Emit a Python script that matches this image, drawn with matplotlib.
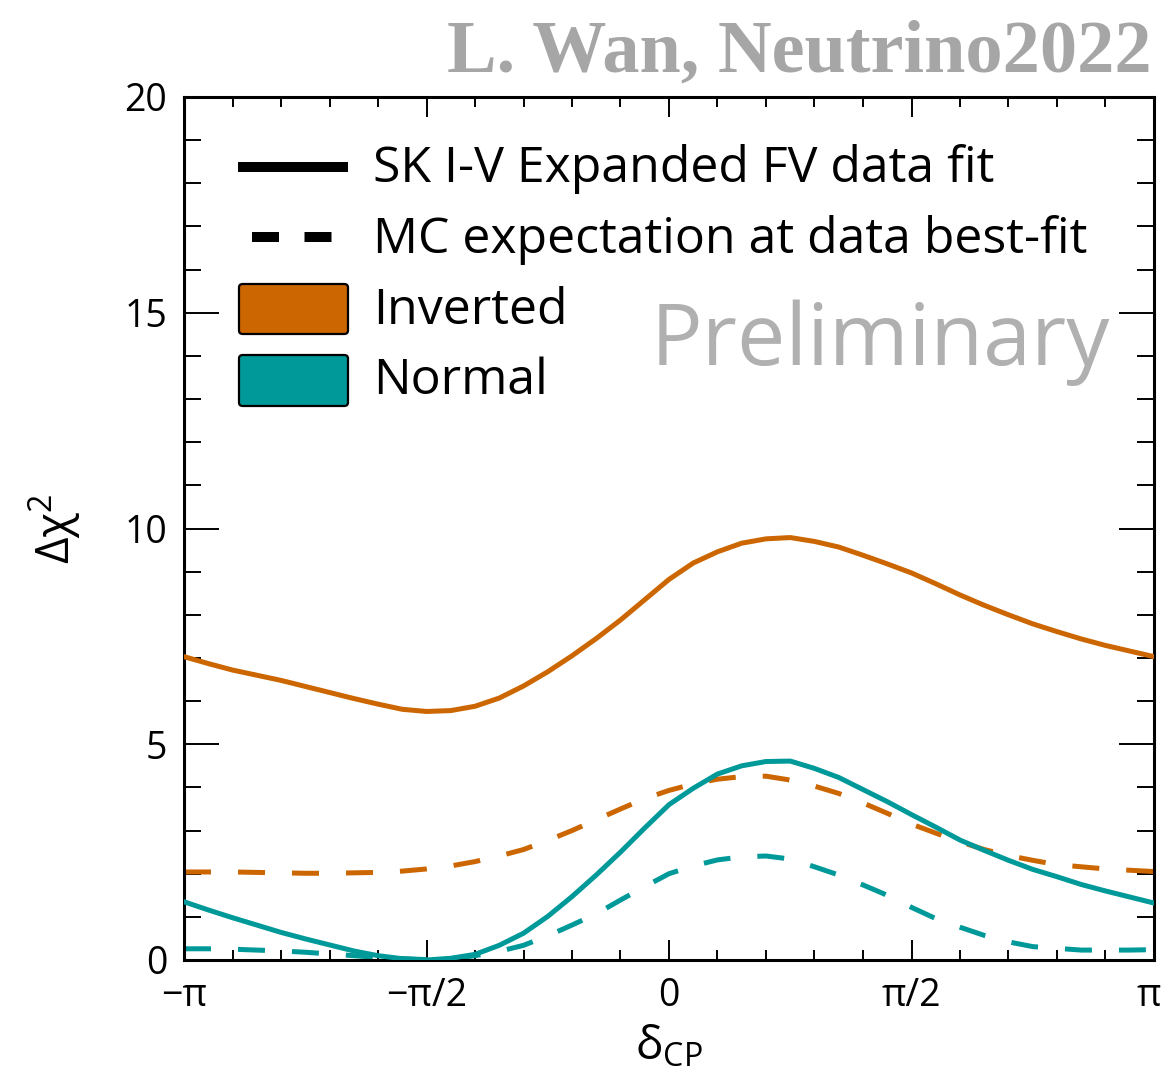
import numpy as np
import matplotlib
matplotlib.use("Agg")
import matplotlib.pyplot as plt
import matplotlib.transforms as mtransforms
from matplotlib.lines import Line2D
from matplotlib.patches import FancyBboxPatch

plt.rcParams['font.family'] = ['Open Sans', 'DejaVu Sans']
plt.rcParams['mathtext.fontset'] = 'custom'
plt.rcParams['mathtext.rm'] = 'Open Sans'
plt.rcParams['mathtext.it'] = 'Open Sans'

# delta_CP grid in units of pi
delta_over_pi = [-1.00, -0.95, -0.90, -0.85, -0.80, -0.75, -0.70, -0.65, -0.60, -0.55,
                 -0.50, -0.45, -0.40, -0.35, -0.30, -0.25, -0.20, -0.15, -0.10, -0.05,
                 0.00, 0.05, 0.10, 0.15, 0.20, 0.25, 0.30, 0.35, 0.40, 0.45,
                 0.50, 0.55, 0.60, 0.65, 0.70, 0.75, 0.80, 0.85, 0.90, 0.95, 1.00]

# Data fit, inverted / normal ordering
io_data = [7.03, 6.87, 6.72, 6.60, 6.48, 6.34, 6.20, 6.06, 5.93, 5.81,
           5.76, 5.78, 5.88, 6.07, 6.35, 6.68, 7.05, 7.45, 7.88, 8.35,
           8.82, 9.20, 9.46, 9.66, 9.76, 9.79, 9.70, 9.57, 9.38, 9.18,
           8.97, 8.72, 8.46, 8.22, 8.00, 7.79, 7.61, 7.44, 7.29, 7.16, 7.03]
no_data = [1.35, 1.16, 0.98, 0.81, 0.64, 0.49, 0.35, 0.21, 0.10, 0.03,
           0.00, 0.04, 0.13, 0.34, 0.62, 1.01, 1.47, 1.97, 2.50, 3.06,
           3.60, 3.98, 4.31, 4.50, 4.60, 4.61, 4.44, 4.23, 3.95, 3.67,
           3.37, 3.08, 2.78, 2.54, 2.31, 2.10, 1.93, 1.75, 1.60, 1.46, 1.32]

# MC expectation at the data best fit
io_mc = [2.04, 2.04, 2.04, 2.03, 2.02, 2.01, 2.01, 2.02, 2.03, 2.06,
         2.11, 2.18, 2.28, 2.41, 2.56, 2.77, 3.00, 3.25, 3.50, 3.74,
         3.93, 4.08, 4.19, 4.25, 4.26, 4.17, 4.03, 3.86, 3.64, 3.40,
         3.15, 2.94, 2.74, 2.56, 2.42, 2.31, 2.21, 2.16, 2.11, 2.08, 2.05]
no_mc = [0.26, 0.26, 0.25, 0.23, 0.21, 0.18, 0.14, 0.10, 0.06, 0.03,
         0.01, 0.03, 0.10, 0.20, 0.34, 0.56, 0.81, 1.07, 1.39, 1.70,
         2.00, 2.18, 2.32, 2.39, 2.41, 2.34, 2.16, 1.97, 1.74, 1.50,
         1.22, 0.96, 0.76, 0.57, 0.42, 0.31, 0.27, 0.23, 0.23, 0.23, 0.24]

x_tick_pos = [-1.0, -0.5, 0.0, 0.5, 1.0]
x_tick_labels = ['\u2212\u03c0', '\u2212\u03c0/2', '0', '\u03c0/2', '\u03c0']
y_tick_pos = [0, 5, 10, 15, 20]

legend_labels = ['SK I-V Expanded FV data fit', 'MC expectation at data best-fit',
                 'Inverted', 'Normal']

ORANGE = '#CC6600'
TEAL = '#009999'

fig = plt.figure(figsize=(11.62, 10.92), dpi=100)
ax = fig.add_axes([184/1162, 1 - 960/1092, 970/1162, 863/1092])

x = np.array(delta_over_pi) * np.pi
dash = (0, (5.4, 5.4))
lw = 3.6
ax.plot(x, io_mc, color=ORANGE, lw=lw, ls=dash, zorder=2)
ax.plot(x, no_mc, color=TEAL, lw=lw, ls=dash, zorder=2)
ax.plot(x, io_data, color=ORANGE, lw=lw, zorder=3)
ax.plot(x, no_data, color=TEAL, lw=lw, zorder=3)

ax.set_xlim(-np.pi, np.pi)
ax.set_ylim(0, 20)
ax.set_xticks(np.array(x_tick_pos) * np.pi)
ax.set_xticklabels(x_tick_labels)
ax.set_xticks(np.arange(-1, 1.0001, 0.1) * np.pi, minor=True)
ax.set_yticks(y_tick_pos)
ax.set_yticks(np.arange(0, 21, 1), minor=True)

for s in ax.spines.values():
    s.set_linewidth(2.2)

ax.tick_params(axis='both', which='both', direction='in', top=True, right=True,
               width=1.4, labelsize=27, colors='black')
ax.tick_params(axis='x', which='major', length=14.4, pad=12)
ax.tick_params(axis='x', which='minor', length=7.2)
ax.tick_params(axis='y', which='major', length=25, pad=12)
ax.tick_params(axis='y', which='minor', length=12)

# keep the last x label inside the canvas
last = ax.get_xticklabels()[-1]
last.set_transform(last.get_transform() +
                   mtransforms.ScaledTranslation(-5/100, 0, fig.dpi_scale_trans))

ax.set_xlabel('$\\mathdefault{\u03b4_{CP}}$', fontsize=33, labelpad=7)
ax.set_ylabel('\u0394\u03c7$^{2}$', fontsize=33, labelpad=30)

# legend, drawn in axes coordinates
def ax_x(px):
    return (px - 184) / 970

def ax_y(py):
    return (960 - py) / 863

ax.add_line(Line2D([ax_x(238), ax_x(348)], [ax_y(167), ax_y(167)], color='black',
                   lw=7.2, solid_capstyle='butt', transform=ax.transAxes))
ax.add_line(Line2D([ax_x(252), ax_x(332)], [ax_y(237), ax_y(237)], color='black',
                   lw=7.2, ls=(0, (2.7, 2.55)), dash_capstyle='butt',
                   transform=ax.transAxes))
for (top, bot), col in zip([(284, 334), (355, 406)], [ORANGE, TEAL]):
    ax.add_patch(FancyBboxPatch((ax_x(239), ax_y(bot)), ax_x(348) - ax_x(239),
                                ax_y(top) - ax_y(bot),
                                boxstyle='round,pad=0,rounding_size=0.004',
                                facecolor=col, edgecolor='black', lw=1.6,
                                transform=ax.transAxes, zorder=4))
for lab, base in zip(legend_labels, [182, 253, 324, 394]):
    ax.text(ax_x(373), ax_y(base), lab, fontsize=36, va='baseline', ha='left',
            transform=ax.transAxes)

ax.text(ax_x(1110), ax_y(365), 'Preliminary', fontsize=62, color='#B0B0B0',
        ha='right', va='baseline', transform=ax.transAxes)

fig.text(1152/1162, 1 - 72/1092, 'L. Wan, Neutrino2022', fontsize=53.5,
         fontweight='bold', family=['Liberation Serif', 'DejaVu Serif'],
         color='#A6A6A6', ha='right', va='baseline')

fig.savefig('out.png', dpi=100)
